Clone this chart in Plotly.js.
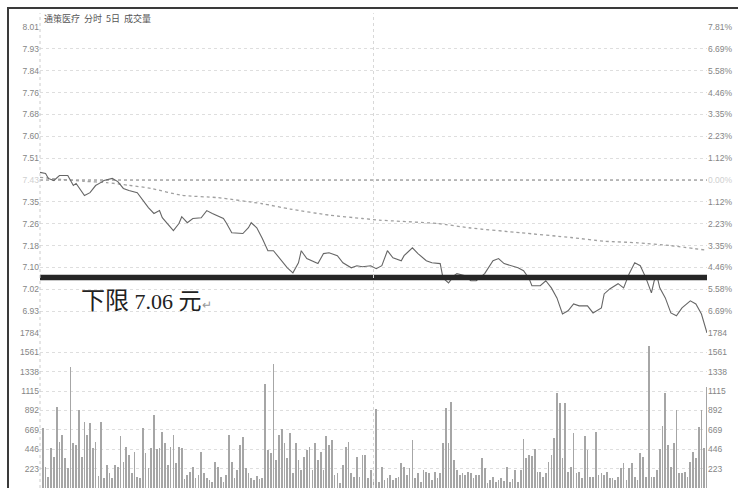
<!DOCTYPE html>
<html>
<head>
<meta charset="utf-8">
<script src="https://cdn.plot.ly/plotly-3.0.1.min.js"></script>
<style>
  html, body { margin: 0; padding: 0; background: #fff; }
  #wrap { position: relative; width: 738px; height: 488px; overflow: hidden; background: #fff; }
  #chart { position: absolute; left: 0; top: 0; width: 738px; height: 488px; }
  #frame { position: absolute; left: 7px; top: 7px; width: 740px; height: 490px;
           border-left: 2px solid #3a3a3a; border-top: 2px solid #3a3a3a; pointer-events: none; }
</style>
</head>
<body>
<div id="wrap"><div id="chart"></div><div id="frame"></div></div>
<script>
// ---------- data ----------
const stockTitle = '通策医疗  分时  5日  成交量';
const limitText = '下限 7.06 元';
const prevClose = 7.43;
const priceTop = 8.01;
const lowerLimit = 7.06;

const priceMinutes = [0,2,3,5,7,10,11,12,13,16,18,20,22,23,26,28,30,32,35,37,39,41,43,44,48,50,51,53,55,58,60,62,66,67,69,73,75,76,78,80,82,84,86,89,91,93,94,96,100,102,104,107,109,112,114,116,119,121,123,125,127,130,131,134,136,139,141,144,145,147,149,150,153,155,157,160,163,165,167,170,172,174,176,177,180,182,184,186,188,190,192,194,197,199,202,203,205,208,210,212,214,216,218,220,221,222,223,225,227,229,231,234,236,238,239,240];
const priceValues = [7.459,7.455,7.436,7.428,7.447,7.447,7.428,7.409,7.417,7.371,7.382,7.409,7.421,7.428,7.436,7.424,7.398,7.390,7.382,7.352,7.325,7.303,7.314,7.287,7.238,7.265,7.291,7.268,7.284,7.287,7.314,7.303,7.284,7.268,7.230,7.227,7.249,7.268,7.249,7.208,7.162,7.162,7.135,7.097,7.078,7.116,7.162,7.132,7.113,7.151,7.154,7.143,7.116,7.097,7.105,7.101,7.105,7.094,7.105,7.162,7.135,7.124,7.143,7.173,7.151,7.124,7.116,7.113,7.059,7.040,7.067,7.075,7.067,7.048,7.048,7.075,7.124,7.132,7.113,7.105,7.097,7.086,7.056,7.029,7.029,7.048,7.021,6.983,6.922,6.934,6.960,6.953,6.953,6.926,6.945,6.998,7.017,7.037,7.021,7.075,7.116,7.105,7.059,7.002,7.048,7.067,7.021,6.983,6.926,6.915,6.945,6.972,6.960,6.922,6.884,6.850];

const avgMinutes = [0,8,16,24,32,40,51,64,80,90,104,116,122,143,155,173,191,203,215,227,239];
const avgValues  = [7.440,7.432,7.425,7.420,7.410,7.398,7.372,7.363,7.340,7.320,7.297,7.284,7.278,7.265,7.248,7.230,7.212,7.198,7.192,7.181,7.165];

// one volume bar per minute, minute 1 .. 240
const volumes = [
  690,240,130,460,357,932,530,610,345,230,
  1393,518,495,898,357,760,610,748,460,530,
  140,760,115,265,173,120,265,242,598,300,
  472,380,173,414,127,115,690,403,230,460,
  840,449,460,645,518,265,472,610,288,472,
  460,100,150,184,242,115,150,414,173,115,
  90,69,300,242,127,69,150,610,300,110,
  207,495,587,230,173,115,90,138,100,115,
  1197,437,403,1427,322,610,679,518,345,633,
  173,518,322,207,357,437,472,207,518,322,
  414,207,598,495,552,150,173,58,265,472,
  530,173,127,357,127,380,380,115,207,90,
  909,69,242,92,115,150,92,115,127,288,
  242,150,230,552,115,173,69,207,184,173,
  92,184,120,173,518,921,518,990,322,207,
  150,173,150,184,173,115,150,150,345,230,
  58,92,127,69,92,115,80,242,69,100,
  207,69,207,564,345,380,368,449,184,184,
  127,173,300,380,575,1093,978,345,978,184,
  242,633,173,184,115,598,437,127,127,645,
  150,173,150,184,115,115,92,127,230,288,
  92,230,288,127,92,403,357,127,1634,127,
  127,207,449,714,1093,495,242,518,898,173,
  173,184,127,300,414,345,702,898,460,1162
];

const priceTickLabels = ['8.01','7.93','7.84','7.76','7.68','7.60','7.51','7.43','7.35','7.26','7.18','7.10','7.02','6.93'];
const pctTickLabels = ['7.81%','6.69%','5.58%','4.46%','3.35%','2.23%','1.12%','0.00%','1.12%','2.23%','3.35%','4.46%','5.58%','6.69%'];
const volTickValues = [1784,1561,1338,1115,892,669,446,223];
const volTickLabels = ['1784','1561','1338','1115','892','669','446','223'];

// ---------- layout helpers ----------
const step = (priceTop - prevClose) / 7;
const priceTickVals = priceTickLabels.map((_, i) => priceTop - i * step);
const priceRange = [prevClose - 7 * step, priceTop];
const volRange = [0, volTickValues[0]];
const refIdx = priceTickLabels.indexOf('7.43');
const leftText = priceTickLabels.map((t, i) => i === refIdx ? '<span style="color:#cfcfcf">' + t + '</span>' : t);
const rightText = pctTickLabels.map((t, i) => i === refIdx ? '<span style="color:#cfcfcf">' + t + '</span>' : t);
const volMinutes = volumes.map((_, i) => i + 1);
const volDomainTop = 155 / 461;

const tickFont = { family: 'Liberation Sans, Arial, sans-serif', size: 8.5, color: '#858585' };

const traces = [
  { type: 'bar', x: volMinutes, y: volumes, xaxis: 'x', yaxis: 'y2',
    marker: { color: '#a6a6a6', line: { width: 0 } }, width: 0.62, hoverinfo: 'skip' },
  { type: 'scatter', mode: 'lines', x: [0, 240], y: [prevClose, prevClose], xaxis: 'x', yaxis: 'y',
    line: { color: '#a8a8a8', width: 1.4, dash: 'dot' }, hoverinfo: 'skip' },
  { type: 'scatter', mode: 'lines', x: avgMinutes, y: avgValues, xaxis: 'x', yaxis: 'y',
    line: { color: '#a0a0a0', width: 1.3, dash: 'dot', shape: 'spline', smoothing: 0.6 }, hoverinfo: 'skip' },
  { type: 'scatter', mode: 'lines', x: priceMinutes, y: priceValues, xaxis: 'x', yaxis: 'y',
    line: { color: '#666666', width: 1.1 }, hoverinfo: 'skip' },
  { type: 'scatter', mode: 'lines', x: [0, 240], y: [lowerLimit, lowerLimit], xaxis: 'x', yaxis: 'y',
    line: { color: '#262626', width: 5.5 }, hoverinfo: 'skip' },
  { type: 'scatter', mode: 'lines', x: priceMinutes, y: priceValues, xaxis: 'x', yaxis: 'y3',
    line: { color: 'rgba(0,0,0,0)', width: 0 }, hoverinfo: 'skip' },
  { type: 'bar', x: volMinutes, y: volumes, xaxis: 'x', yaxis: 'y4',
    marker: { color: 'rgba(0,0,0,0)' }, hoverinfo: 'skip' }
];

const layout = {
  width: 738, height: 488,
  margin: { l: 40, r: 31, t: 27, b: 0, pad: 0 },
  paper_bgcolor: 'rgba(0,0,0,0)', plot_bgcolor: 'rgba(0,0,0,0)',
  showlegend: false, bargap: 0,
  xaxis: { range: [0, 240], anchor: 'y2', showgrid: false, zeroline: false, showticklabels: false, ticks: '', showline: false, fixedrange: true },
  yaxis: { domain: [volDomainTop, 1], range: priceRange, tickvals: priceTickVals, ticktext: leftText,
           showgrid: true, gridcolor: '#dedede', griddash: 'dot', gridwidth: 1, zeroline: false,
           ticks: '', tickfont: tickFont, showline: false, fixedrange: true },
  yaxis3: { overlaying: 'y', side: 'right', range: priceRange, tickvals: priceTickVals, ticktext: rightText,
            showgrid: false, zeroline: false, ticks: '', tickfont: tickFont, showline: false, fixedrange: true },
  yaxis2: { domain: [0, volDomainTop], range: volRange, tickvals: volTickValues, ticktext: volTickLabels,
            showgrid: true, gridcolor: '#dedede', griddash: 'dot', gridwidth: 1, zeroline: false,
            ticks: '', tickfont: tickFont, showline: false, fixedrange: true },
  yaxis4: { overlaying: 'y2', side: 'right', range: volRange, tickvals: volTickValues, ticktext: volTickLabels,
            showgrid: false, zeroline: false, ticks: '', tickfont: tickFont, showline: false, fixedrange: true },
  shapes: [
    { type: 'line', xref: 'paper', yref: 'paper', x0: 0, x1: 0, y0: 0, y1: 1.03,
      line: { color: '#cccccc', width: 1, dash: 'dot' } },
    { type: 'line', xref: 'x', yref: 'paper', x0: 120, x1: 120, y0: 0, y1: 1.03,
      line: { color: '#d8d8d8', width: 1, dash: 'dot' } }
  ],
  annotations: [
    { xref: 'paper', yref: 'paper', x: 0.003, y: 1.0, xanchor: 'left', yanchor: 'bottom',
      text: stockTitle, showarrow: false,
      font: { family: 'Noto Sans CJK SC, sans-serif', size: 9, color: '#555' } },
    { xref: 'paper', yref: 'paper', x: 0.058, y: 0.406, xanchor: 'left', yanchor: 'middle',
      text: '<span style="font-size:24px">下限</span> 7.06 <span style="font-size:23px">元</span><span style="font-size:12px;color:#999">↵</span>', showarrow: false,
      font: { family: 'Liberation Serif, Noto Sans CJK SC, serif', size: 22, color: '#222' } }
  ]
};

Plotly.newPlot('chart', traces, layout, { displayModeBar: false, staticPlot: true });
</script>
</body>
</html>
